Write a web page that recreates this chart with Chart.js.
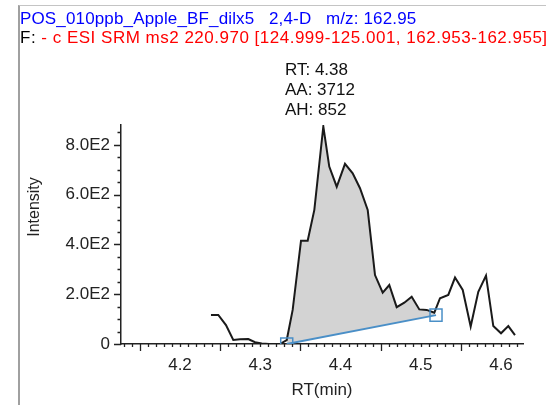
<!DOCTYPE html>
<html>
<head>
<meta charset="utf-8">
<script src="https://cdn.jsdelivr.net/npm/chart.js@4.4.1/dist/chart.umd.min.js"></script>
<style>
  html, body { margin: 0; padding: 0; background: #fff; overflow: hidden; }
  #wrap { position: relative; width: 546px; height: 405px; overflow: hidden; }
  #frame { position: absolute; left: 18px; top: 5px; right: -2px; bottom: -2px;
           border-left: 2px solid #a0a0a0; border-top: 1px solid #c4c4c4; }
  .txt { position: absolute; font: 17px "Liberation Sans", Arial, sans-serif; white-space: pre; line-height: 19px; }
  #head1 { left: 20px; top: 9px; color: #0000ff; letter-spacing: 0.15px; }
  #head2 { left: 20px; top: 28px; color: #ff0000; letter-spacing: 0.5px; }
  #head2 span { color: #000; }
  #peakInfo { left: 285px; top: 60px; line-height: 20px; color: #111; }
  #yTitle { left: 33px; top: 207px; font-size: 16px; color: #222;
            transform: translate(-50%, -50%) rotate(-90deg); }
  canvas { position: absolute; left: 0; top: 0; }
</style>
</head>
<body>
<div id="wrap">
  <canvas id="chart" width="546" height="405"></canvas>
  <div id="frame"></div>
  <div class="txt" id="head1">POS_010ppb_Apple_BF_dilx5   2,4-D   m/z: 162.95</div>
  <div class="txt" id="head2"><span>F:</span> - c ESI SRM ms2 220.970 [124.999-125.001, 162.953-162.955]</div>
  <div class="txt" id="peakInfo">RT: 4.38<br>AA: 3712<br>AH: 852</div>
  <div class="txt" id="yTitle">Intensity</div>
</div>
<script>
// ── data ────────────────────────────────────────────────────────
const rt = [4.2386, 4.2477, 4.2573, 4.2664, 4.2748, 4.2851, 4.2935, 4.3018, 4.3110, 4.3200, 4.3245,
  4.3330, 4.3404, 4.3508, 4.3591, 4.3674, 4.3786, 4.3860, 4.3953, 4.4056, 4.4152, 4.4243, 4.4339,
  4.4430, 4.4526, 4.4608, 4.4700, 4.4795, 4.4887, 4.4982, 4.5074, 4.5169, 4.5240, 4.5343, 4.5427,
  4.5523, 4.5622, 4.5717, 4.5813, 4.5904, 4.6000, 4.6091, 4.6174];
const intensity = [117, 117, 76, 16, 19, 20, 7, 2, 0, 0, 0,
  16, 137, 415, 415, 539, 874, 713, 632, 724, 686, 626, 539,
  277, 206, 237, 148, 166, 190, 139, 137, 126, 184, 197, 267,
  217, 70, 210, 275, 72, 43, 72, 36];

// integrated peak: baseline end points
const baselineRt = [4.333, 4.519];
const baselineY = [0, 116];

const xTickLabels = [4.2, 4.3, 4.4, 4.5, 4.6];
const yTickLabels = [0, 200, 400, 600, 800];

const X_MIN = 4.1265, X_MAX = 4.6274, Y_MIN = 0, Y_MAX = 880;

const signal = rt.map((x, i) => ({ x, y: intensity[i] }));
const peakArea = signal.filter(p => p.x >= baselineRt[0] && p.x <= baselineRt[1]);
const baseline = baselineRt.map((x, i) => ({ x, y: baselineY[i] }));

const FONT = { family: '"Liberation Sans", Arial, sans-serif', size: 17 };

// minor / major tick marks drawn outside the plot
const tickMarks = {
  id: 'tickMarks',
  afterDraw(chart) {
    const { ctx, scales: { x, y } } = chart;
    ctx.save();
    ctx.strokeStyle = '#222';
    ctx.lineWidth = 1.3;
    ctx.beginPath();
    for (let v = 0; v <= Y_MAX; v += 50) {
      const py = Math.round(y.getPixelForValue(v)) + 0.5;
      const len = v % 200 === 0 ? 7 : 3.5;
      ctx.moveTo(x.left, py);
      ctx.lineTo(x.left - len, py);
    }
    for (let k = 413; k <= 462; k++) {
      const px = Math.round(x.getPixelForValue(k / 100)) + 0.5;
      const len = k % 10 === 5 ? 7 : 3;
      ctx.moveTo(px, y.bottom);
      ctx.lineTo(px, y.bottom + len);
    }
    ctx.stroke();
    ctx.restore();
  },
};

new Chart(document.getElementById('chart'), {
  type: 'line',
  plugins: [tickMarks],
  data: {
    datasets: [
      {
        label: 'peak',
        data: peakArea,
        borderWidth: 0,
        borderColor: 'rgba(0,0,0,0)',
        backgroundColor: '#d3d3d3',
        pointRadius: 0,
        fill: 1,
        order: 3,
      },
      {
        label: 'baseline',
        data: baseline,
        borderColor: '#4a8fc7',
        borderWidth: 2,
        pointStyle: 'rect',
        pointRadius: 8.5,
        pointBorderColor: '#4a8fc7',
        pointBackgroundColor: 'rgba(255,255,255,0)',
        pointBorderWidth: 1.5,
        fill: false,
        order: 1,
      },
      {
        label: 'signal',
        data: signal,
        borderColor: '#1a1a1a',
        borderWidth: 2,
        pointRadius: 0,
        tension: 0,
        fill: false,
        order: 2,
      },
    ],
  },
  options: {
    responsive: false,
    animation: false,
    devicePixelRatio: 1,
    layout: { padding: { top: 125, right: 23, left: 0, bottom: 0 } },
    plugins: { legend: { display: false }, tooltip: { enabled: false } },
    scales: {
      x: {
        type: 'linear',
        min: X_MIN,
        max: X_MAX,
        afterFit: s => { s.height = 61; },
        afterBuildTicks: s => { s.ticks = xTickLabels.map(v => ({ value: v })); },
        grid: { display: false, drawTicks: false },
        border: { display: true, color: '#222', width: 1.5 },
        ticks: { font: FONT, color: '#222', padding: 11, maxRotation: 0,
                 callback: v => v.toFixed(1) },
        title: { display: true, text: 'RT(min)', font: FONT, color: '#222',
                 padding: { top: 0, bottom: 4 } },
      },
      y: {
        type: 'linear',
        min: Y_MIN,
        max: Y_MAX,
        afterFit: s => { s.width = 121; },
        afterBuildTicks: s => { s.ticks = yTickLabels.map(v => ({ value: v })); },
        grid: { display: false, drawTicks: false },
        border: { display: true, color: '#222', width: 1.5 },
        ticks: { font: FONT, color: '#222', padding: 11,
                 callback: v => v === 0 ? '0' : (v / 100).toFixed(1) + 'E2' },
      },
    },
  },
});
</script>
</body>
</html>
